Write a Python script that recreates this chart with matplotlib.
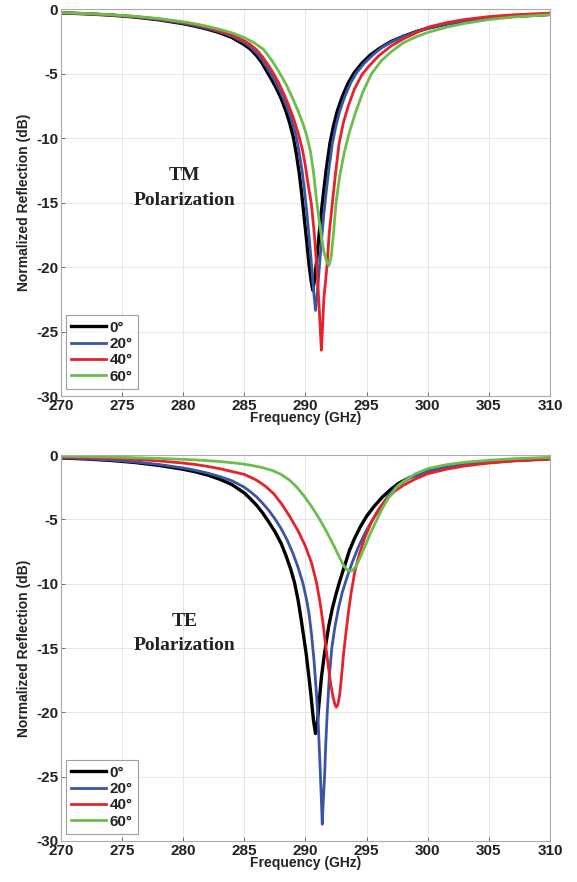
import matplotlib
matplotlib.use("Agg")
import matplotlib.pyplot as plt

# ---------------- data ----------------
angles = ["0°", "20°", "40°", "60°"]
colors = ["#000000", "#3a55a5", "#e8222b", "#6abf4b"]

# ----- TM polarization -----
tm_f_0 = [270, 272, 274, 276, 278, 280, 281, 282, 283, 284, 285, 285.5, 286, 286.4, 286.8, 287.2, 287.6, 288.0, 288.4, 288.7, 289.0, 289.25, 289.5, 289.7, 289.9, 290.1, 290.3, 290.48, 290.6,
          290.72, 290.9, 291.1, 291.3, 291.5, 291.7, 292.0, 292.3, 292.6, 293.0, 293.5, 294.0, 294.6, 295.3, 296.1, 297, 298, 299, 300, 301.5, 303, 305, 307, 310]
tm_r_0 = [-0.28, -0.35, -0.45, -0.6, -0.82, -1.12, -1.32, -1.55, -1.83, -2.2, -2.75, -3.1, -3.6, -4.1, -4.75, -5.4, -6.1, -6.9, -7.9, -8.8, -9.9, -11.2, -12.8, -14.4, -16.2, -18.0, -19.9, -21.2, -21.8,
          -21.1, -19.6, -17.6, -15.7, -14.0, -12.4, -10.4, -9.0, -7.9, -6.8, -5.7, -4.9, -4.2, -3.55, -3.0, -2.5, -2.1, -1.75, -1.47, -1.15, -0.92, -0.7, -0.55, -0.4]

tm_f_20 = [270, 272, 274, 276, 278, 280, 281, 282, 283, 284, 285, 285.5, 286, 286.4, 286.8, 287.2, 287.6, 288.0, 288.4, 288.8, 289.2, 289.45, 289.7, 289.9, 290.1, 290.3, 290.5, 290.68, 290.82,
           290.95, 291.1, 291.3, 291.5, 291.7, 291.9, 292.2, 292.5, 292.8, 293.2, 293.7, 294.2, 294.8, 295.5, 296.2, 297, 298, 299, 300, 301.5, 303, 305, 307, 310]
tm_r_20 = [-0.28, -0.35, -0.44, -0.58, -0.8, -1.08, -1.27, -1.5, -1.76, -2.1, -2.6, -2.95, -3.4, -3.85, -4.45, -5.05, -5.75, -6.5, -7.4, -8.4, -9.7, -10.9, -12.4, -13.9, -15.7, -17.7, -19.9, -22.0, -23.36,
           -22.2, -20.4, -18.0, -15.9, -14.1, -12.5, -10.4, -9.0, -7.9, -6.8, -5.7, -4.9, -4.2, -3.55, -3.0, -2.55, -2.12, -1.76, -1.48, -1.15, -0.92, -0.7, -0.55, -0.4]

tm_f_40 = [270, 272, 274, 276, 278, 280, 281, 282, 283, 284, 285, 285.5, 286, 286.5, 287.0, 287.4, 287.8, 288.2, 288.6, 289.0, 289.4, 289.75, 290.0, 290.25, 290.47, 290.7, 290.93, 291.1, 291.22, 291.3,
           291.38, 291.5, 291.75, 291.95, 292.2, 292.45, 292.75, 293.1, 293.5, 294.0, 294.6, 295.2, 296, 297, 298, 299, 300, 301.5, 303, 305, 307, 310]
tm_r_40 = [-0.27, -0.34, -0.43, -0.56, -0.76, -1.02, -1.2, -1.42, -1.68, -2.0, -2.45, -2.75, -3.15, -3.7, -4.4, -5.0, -5.7, -6.5, -7.4, -8.4, -9.6, -10.9, -12.2, -13.8, -15.0, -17.2, -20.0, -22.8, -25.0, -26.45,
           -25.0, -22.5, -20.0, -17.3, -15.0, -12.8, -10.4, -8.8, -7.5, -6.2, -5.1, -4.4, -3.6, -2.85, -2.3, -1.85, -1.4, -1.05, -0.8, -0.57, -0.43, -0.3]

tm_f_60 = [270, 272, 274, 276, 278, 280, 281, 282, 283, 284, 285, 285.8, 286.55, 287.2, 287.8, 288.4, 288.9, 289.4, 289.8, 290.1, 290.4, 290.65, 290.93, 291.2, 291.5, 291.75, 291.92,
           292.1, 292.3, 292.5, 292.8, 293.2, 293.6, 294.1, 294.7, 295.4, 296.2, 297.0, 298, 299, 300, 301.5, 303, 305, 307, 310]
tm_r_60 = [-0.26, -0.33, -0.42, -0.54, -0.72, -0.97, -1.13, -1.33, -1.56, -1.83, -2.2, -2.6, -3.1, -3.9, -4.8, -5.8, -6.8, -7.9, -8.9, -9.8, -11.0, -12.6, -15.0, -17.0, -18.8, -19.6, -19.87,
           -19.2, -17.3, -15.0, -12.9, -11.0, -9.5, -8.0, -6.4, -5.0, -4.0, -3.3, -2.6, -2.15, -1.8, -1.4, -1.1, -0.8, -0.6, -0.42]

# ----- TE polarization -----
te_f_0 = [270, 272, 274, 276, 278, 280, 281, 282, 283, 284, 285, 285.5, 286, 286.5, 287, 287.5, 288, 288.4, 288.8, 289.1, 289.4, 289.65, 289.85, 290.05, 290.25, 290.45, 290.65, 290.82,
          290.95, 291.1, 291.3, 291.5, 291.7, 291.9, 292.2, 292.5, 292.8, 293.2, 293.6, 294.0, 294.5, 295, 295.6, 296.3, 297, 297.6, 298.5, 300, 301.5, 303, 305, 307, 310]
te_r_0 = [-0.22, -0.3, -0.41, -0.57, -0.8, -1.1, -1.3, -1.55, -1.88, -2.3, -2.95, -3.4, -3.9, -4.5, -5.2, -5.95, -6.85, -7.8, -8.9, -9.9, -11.3, -12.8, -14.1, -15.4, -17.0, -18.7, -20.6, -21.65,
          -21.0, -19.4, -17.3, -15.8, -14.5, -13.3, -11.9, -10.8, -9.8, -8.6, -7.4, -6.5, -5.55, -4.75, -4.0, -3.25, -2.65, -2.2, -1.75, -1.25, -0.95, -0.74, -0.55, -0.41, -0.27]

te_f_20 = [270, 272, 274, 276, 278, 280, 281, 282, 283, 284, 285, 285.5, 286, 286.5, 287, 287.5, 288, 288.5, 289, 289.4, 289.8, 290.1, 290.3, 290.5, 290.7, 290.9, 291.05, 291.2, 291.3, 291.37,
           291.45, 291.56, 291.66, 291.78, 291.95, 292.15, 292.4, 292.7, 293.0, 293.4, 293.8, 294.3, 294.9, 295.5, 296.2, 296.9, 297.6, 298.5, 300, 301.5, 303, 305, 307, 310]
te_r_20 = [-0.2, -0.28, -0.38, -0.53, -0.73, -1.0, -1.18, -1.4, -1.67, -2.0, -2.5, -2.85, -3.25, -3.75, -4.3, -4.95, -5.7, -6.6, -7.7, -8.75, -10.0, -11.3, -12.4, -14.0, -16.0, -18.6, -21.0, -24.4, -26.8, -28.7,
           -27.0, -25.0, -22.4, -20.0, -17.2, -15.0, -13.4, -11.9, -10.7, -9.5, -8.4, -7.2, -6.0, -5.0, -3.95, -3.0, -2.3, -1.8, -1.25, -0.95, -0.74, -0.55, -0.41, -0.27]

te_f_40 = [270, 272, 274, 276, 278, 280, 281, 282, 283, 284, 285, 286, 286.7, 287.4, 288.05, 288.7, 289.4, 290, 290.5, 290.9, 291.2, 291.45, 291.65, 291.85, 292.05, 292.25, 292.4, 292.52,
           292.65, 292.8, 292.95, 293.1, 293.3, 293.5, 293.75, 294.05, 294.4, 294.86, 295.4, 296, 296.6, 297.3, 298, 299, 300, 301.5, 303, 305, 307, 310]
te_r_40 = [-0.15, -0.2, -0.25, -0.33, -0.45, -0.62, -0.73, -0.88, -1.06, -1.28, -1.5, -1.95, -2.4, -3.0, -3.8, -4.75, -5.9, -7.1, -8.4, -9.9, -11.5, -13.2, -14.8, -16.3, -17.7, -18.8, -19.35, -19.6,
           -19.4, -18.6, -17.2, -15.6, -13.9, -12.3, -10.6, -9.0, -7.7, -6.4, -5.2, -4.2, -3.45, -2.8, -2.35, -1.85, -1.45, -1.1, -0.85, -0.62, -0.46, -0.32]

te_f_60 = [270, 272, 274, 276, 278, 280, 281.5, 283, 284.5, 285.5, 286.5, 287.3, 288.0, 288.7, 289.3, 289.9, 290.5, 291.1, 291.7, 292.3, 292.8, 293.2, 293.5, 293.8,
           294.1, 294.5, 294.9, 295.3, 295.7, 296.2, 296.8, 297.4, 298, 299, 300, 301.5, 303, 305, 307, 310]
te_r_60 = [-0.08, -0.11, -0.15, -0.2, -0.26, -0.33, -0.4, -0.5, -0.64, -0.78, -0.98, -1.2, -1.5, -1.95, -2.5, -3.2, -4.0, -4.9, -5.9, -7.0, -8.0, -8.7, -9.0, -9.0,
           -8.7, -7.9, -7.0, -6.1, -5.3, -4.3, -3.3, -2.55, -2.05, -1.45, -1.05, -0.75, -0.56, -0.4, -0.28, -0.17]

tm_f = [tm_f_0, tm_f_20, tm_f_40, tm_f_60]
tm_r = [tm_r_0, tm_r_20, tm_r_40, tm_r_60]
te_f = [te_f_0, te_f_20, te_f_40, te_f_60]
te_r = [te_r_0, te_r_20, te_r_40, te_r_60]

x_ticks = [270, 275, 280, 285, 290, 295, 300, 305, 310]
y_ticks = [0, -5, -10, -15, -20, -25, -30]

# ---------------- figure ----------------
plt.rcParams['font.family'] = ['Liberation Sans', 'DejaVu Sans']
fig = plt.figure(figsize=(5.77, 8.82), dpi=100)

ax_positions = [
    [0.1057, 0.551, 0.8475, 0.4385],
    [0.1057, 0.0465, 0.8475, 0.4375],
]
panels = [
    (tm_f, tm_r, ["TM", "Polarization"]),
    (te_f, te_r, ["TE", "Polarization"]),
]
widths = [2.4, 2.0, 2.0, 2.0]

for pos, (fs, rs, label) in zip(ax_positions, panels):
    ax = fig.add_axes(pos)
    for f, r, c, a, w in zip(fs, rs, colors, angles, widths):
        ax.plot(f, r, color=c, lw=w, label=a, solid_joinstyle='round')
    ax.set_xlim(270, 310)
    ax.set_ylim(-30, 0)
    ax.set_xticks(x_ticks)
    ax.set_yticks(y_ticks)
    ax.set_xticklabels([str(t) for t in x_ticks], fontsize=11, fontweight='bold')
    ax.set_yticklabels([str(t) for t in y_ticks], fontsize=11, fontweight='bold')
    ax.tick_params(direction='in', length=3, width=0.6, colors='#555555',
                   labelcolor='#222222', pad=2)
    ax.grid(True, color='#e6e6e6', lw=0.7)
    ax.set_axisbelow(True)
    for s in ax.spines.values():
        s.set_color('#aaaaaa')
        s.set_linewidth(0.8)
    ax.set_xlabel("Frequency (GHz)", fontsize=10, fontweight='bold',
                  color='#222222', labelpad=-1)
    ax.set_ylabel("Normalized Reflection (dB)", fontsize=10, fontweight='bold',
                  color='#222222', labelpad=4)
    ax.text(280.1, -12.9, label[0], ha='center', va='center', fontsize=14,
            fontweight='bold', family='Liberation Serif', color='#222222')
    ax.text(280.1, -14.8, label[1], ha='center', va='center', fontsize=14,
            fontweight='bold', family='Liberation Serif', color='#222222')
    leg = ax.legend(loc='lower left', bbox_to_anchor=(0.01, 0.018),
                    borderaxespad=0, frameon=True, fancybox=False,
                    handlelength=2.3, handletextpad=0.2, labelspacing=0.15,
                    borderpad=0.35, prop={'weight': 'bold', 'size': 11})
    leg.get_frame().set_edgecolor('#888888')
    leg.get_frame().set_linewidth(0.8)
    for t in leg.get_texts():
        t.set_color('#222222')

fig.savefig("out.png", dpi=100)
